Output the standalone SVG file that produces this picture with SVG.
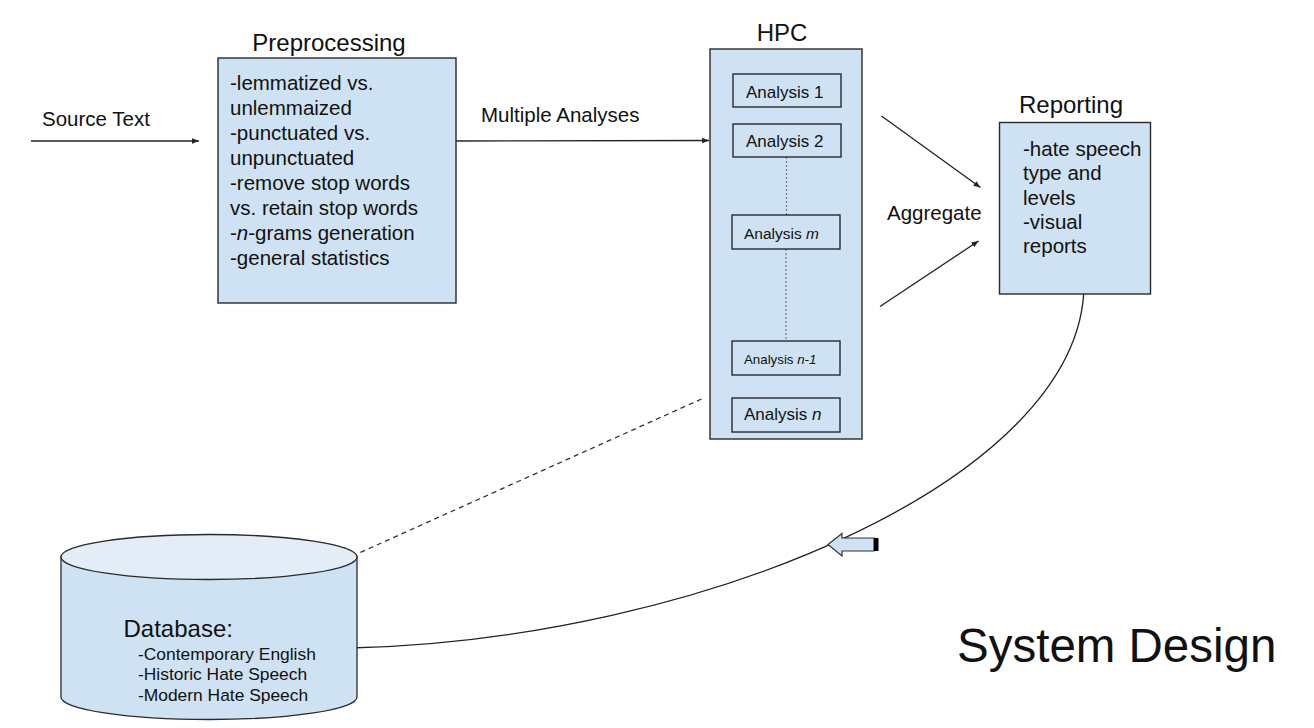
<svg xmlns="http://www.w3.org/2000/svg" width="1314" height="728" viewBox="0 0 1314 728">
<defs>
<marker id="ah" viewBox="0 0 10 10" refX="10" refY="5" markerWidth="7" markerHeight="7" markerUnits="userSpaceOnUse" orient="auto"><path d="M0,1 L10,5 L0,9 z" fill="#222"/></marker>
<style>
text{font-family:"Liberation Sans",Arial,sans-serif;fill:#111}
.box{fill:#cfe2f3;stroke:#2a2a2a;stroke-width:1.4}
.t{font-size:20.5px}
.title{font-size:24px;text-anchor:middle}
.an{fill:#cfe2f3;stroke:#2a2a2a;stroke-width:1.4}
.ln{fill:none;stroke:#222;stroke-width:1.3}
.dot{fill:none;stroke:#777;stroke-width:1.2;stroke-dasharray:2 2}
</style>
</defs>
<rect width="1314" height="728" fill="#fff"/>
<g id="connectors">
<line class="ln" x1="31" y1="141" x2="199" y2="141" marker-end="url(#ah)"/>
<line class="ln" x1="456" y1="141" x2="709" y2="140.5" marker-end="url(#ah)"/>
<line class="ln" x1="881.5" y1="116" x2="980.5" y2="187.5" marker-end="url(#ah)"/>
<line class="ln" x1="880" y1="306.5" x2="978.5" y2="241" marker-end="url(#ah)"/>
<line fill="none" stroke="#333" stroke-width="1.3" stroke-dasharray="5 4" x1="701.5" y1="399" x2="358" y2="553.5"/>
<path class="ln" d="M1084,287 C1080,480 700,640 350,648"/>
<polygon points="828,544.5 842,533.5 842,538 874,538 874,551 842,551 842,556" fill="#cfe2f3" stroke="#333" stroke-width="1.2"/>
<rect x="874" y="538" width="4.5" height="13" fill="#000"/>
</g>
<g id="source-text">
<text class="t" x="42" y="126">Source Text</text>
</g>
<g id="multiple-analyses-label">
<text class="t" x="481" y="122">Multiple Analyses</text>
</g>
<g id="preprocessing">
<text class="title" x="329" y="51">Preprocessing</text>
<rect class="box" x="218" y="58" width="238" height="245"/>
<text class="t" x="230" y="90">-lemmatized vs.</text>
<text class="t" x="230" y="115">unlemmaized</text>
<text class="t" x="230" y="140">-punctuated vs.</text>
<text class="t" x="230" y="165">unpunctuated</text>
<text class="t" x="230" y="190">-remove stop words</text>
<text class="t" x="230" y="215">vs. retain stop words</text>
<text class="t" x="230" y="240">-<tspan font-style="italic">n</tspan>-grams generation</text>
<text class="t" x="230" y="265">-general statistics</text>
</g>
<g id="hpc">
<text class="title" x="782" y="41">HPC</text>
<rect class="box" x="710" y="49" width="152" height="390"/>
<line class="dot" x1="786.5" y1="157" x2="786.5" y2="215"/>
<line class="dot" x1="786" y1="249" x2="786" y2="341"/>
</g>
<g id="analysis-1">
<rect class="an" x="733" y="74" width="108" height="33"/>
<text x="746" y="97.5" font-size="17">Analysis 1</text>
</g>
<g id="analysis-2">
<rect class="an" x="733" y="124" width="108" height="33"/>
<text x="746" y="147" font-size="17">Analysis 2</text>
</g>
<g id="analysis-m">
<rect class="an" x="732" y="215" width="108" height="34"/>
<text x="744" y="238.5" font-size="15.5">Analysis <tspan font-style="italic">m</tspan></text>
</g>
<g id="analysis-n-1">
<rect class="an" x="732" y="341" width="108" height="34"/>
<text x="744" y="363.5" font-size="13.3">Analysis <tspan font-style="italic">n-1</tspan></text>
</g>
<g id="analysis-n">
<rect class="an" x="732" y="398" width="108" height="34"/>
<text x="744" y="420" font-size="17">Analysis <tspan font-style="italic">n</tspan></text>
</g>
<g id="aggregate-label">
<text class="t" x="887" y="219.5">Aggregate</text>
</g>
<g id="reporting">
<text class="title" x="1071" y="113">Reporting</text>
<rect class="box" x="999.5" y="122.5" width="151" height="171.5"/>
<text class="t" x="1023" y="156">-hate speech</text>
<text class="t" x="1023" y="180.3">type and</text>
<text class="t" x="1023" y="204.6">levels</text>
<text class="t" x="1023" y="229">-visual</text>
<text class="t" x="1023" y="253.3">reports</text>
</g>
<g id="database">
<path d="M61,557 L61,697 A148,22.5 0 0 0 357,697 L357,557 Z" fill="#cfe2f3" stroke="#2a2a2a" stroke-width="1.3"/>
<ellipse cx="209" cy="557" rx="148" ry="22.5" fill="#e3edf7" stroke="#2a2a2a" stroke-width="1.3"/>
<text x="123.5" y="637" font-size="24">Database:</text>
<text x="138" y="660" font-size="17.4">-Contemporary English</text>
<text x="138" y="680.3" font-size="17.4">-Historic Hate Speech</text>
<text x="138" y="700.6" font-size="17.4">-Modern Hate Speech</text>
</g>
<g id="system-design">
<text x="957" y="662" font-size="47.5">System Design</text>
</g>
</svg>
